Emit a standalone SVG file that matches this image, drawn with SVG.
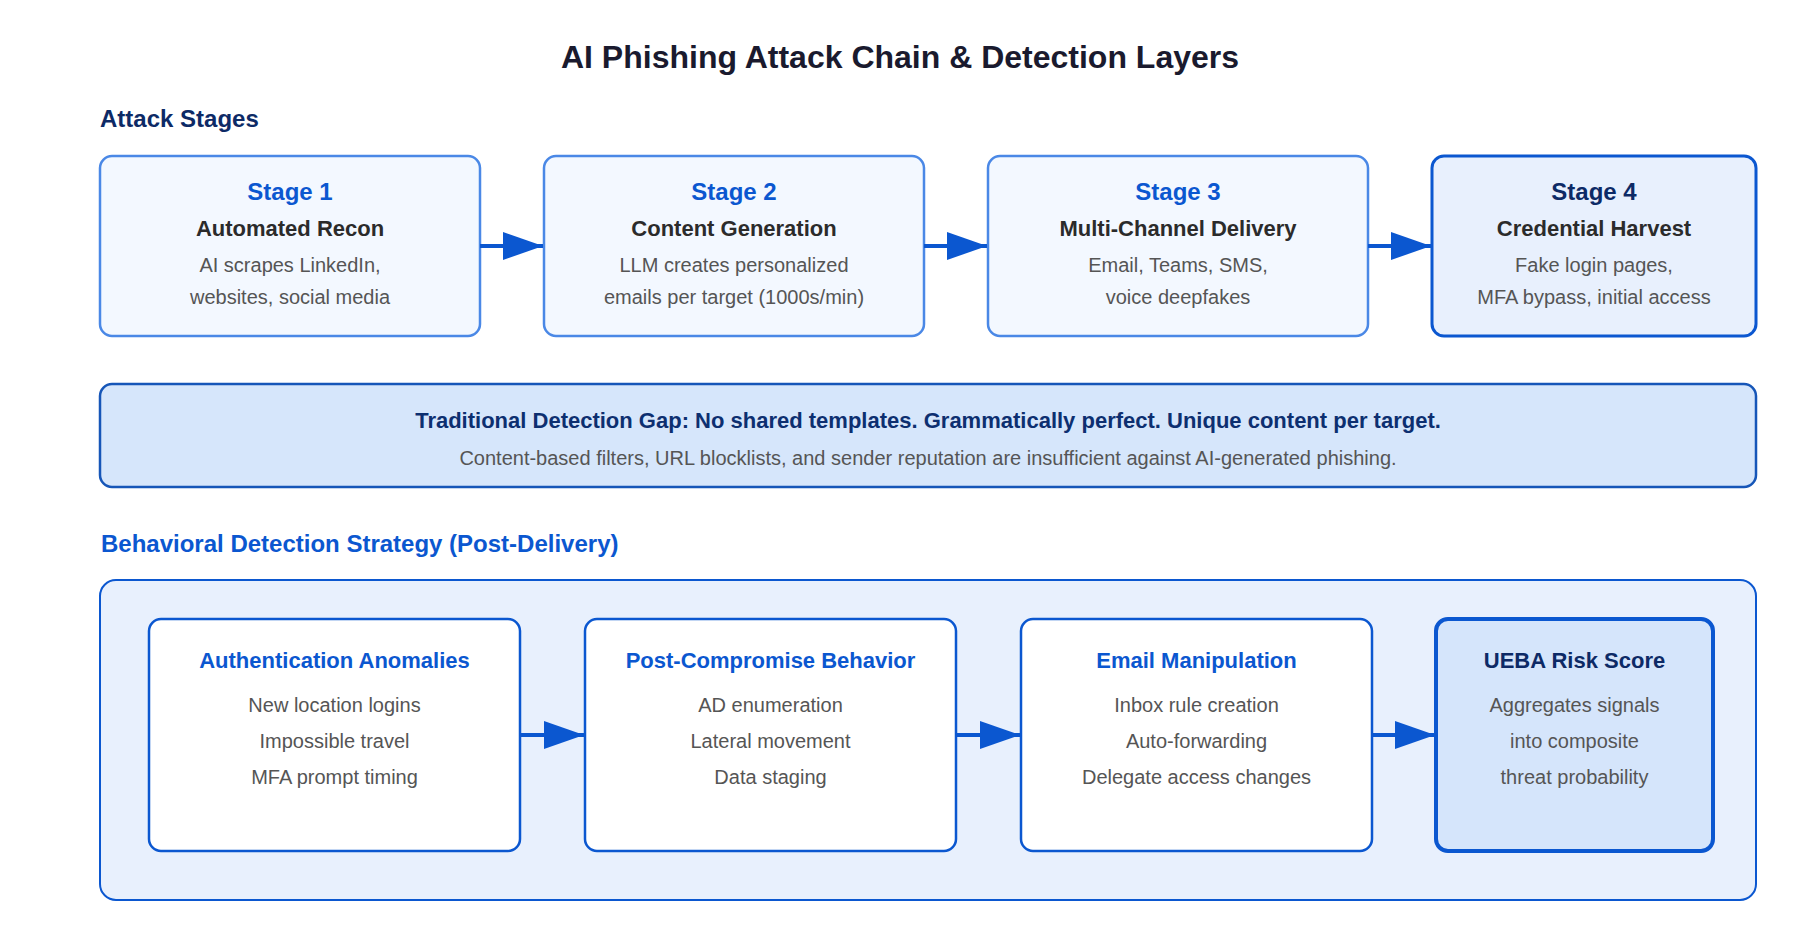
<svg xmlns="http://www.w3.org/2000/svg" width="1800" height="940" viewBox="0 0 1800 940">
<defs>
<marker id="ah" markerUnits="userSpaceOnUse" markerWidth="40" markerHeight="28" refX="40" refY="14" orient="auto">
<path d="M0,0 L40,14 L0,28 Z" fill="#0b57d0"/>
</marker>
<style>
text{font-family:"Liberation Sans",Arial,Helvetica,sans-serif;text-anchor:middle}
.title{font-size:32px;font-weight:bold;fill:#1a1a2e}
.sec{font-size:24px;font-weight:bold;text-anchor:start}
.stage{fill:#f3f8ff;stroke:#4a88e6;stroke-width:2.5}
.stage4{fill:#e8f0fd;stroke:#0b57d0;stroke-width:3}
.lbl{font-size:24px;font-weight:bold;fill:#0b57d0}
.lbln{font-size:24px;font-weight:bold;fill:#0d2a66}
.sub{font-size:22px;font-weight:bold;fill:#2b2b2b}
.desc{font-size:20px;fill:#555}
.gap{fill:#d6e6fb;stroke:#1656b8;stroke-width:2.5}
.gapt{font-size:22px;font-weight:bold;fill:#0d2f70}
.gapd{font-size:20px;fill:#555}
.cont{fill:#e8f0fd;stroke:#0b57d0;stroke-width:2}
.det{fill:#fff;stroke:#0b57d0;stroke-width:2.5}
.ueba{fill:#d5e5fb;stroke:#0b57d0;stroke-width:4}
.dt{font-size:22px;font-weight:bold;fill:#0b57d0}
.dtn{font-size:22px;font-weight:bold;fill:#0d2a66}
.conn{stroke:#0b57d0;stroke-width:4;fill:none;marker-end:url(#ah)}
</style>
</defs>
<rect width="1800" height="940" fill="#fff"/>
<text class="title" x="900" y="68">AI Phishing Attack Chain &amp; Detection Layers</text>
<text class="sec" x="100" y="127" fill="#0d2a66">Attack Stages</text>

<g id="stage1">
<rect class="stage" x="100" y="156" width="380" height="180" rx="12"/>
<text class="lbl" x="290" y="200">Stage 1</text>
<text class="sub" x="290" y="236">Automated Recon</text>
<text class="desc" x="290" y="272">AI scrapes LinkedIn,</text>
<text class="desc" x="290" y="304">websites, social media</text>
</g>
<g id="stage2">
<rect class="stage" x="544" y="156" width="380" height="180" rx="12"/>
<text class="lbl" x="734" y="200">Stage 2</text>
<text class="sub" x="734" y="236">Content Generation</text>
<text class="desc" x="734" y="272">LLM creates personalized</text>
<text class="desc" x="734" y="304">emails per target (1000s/min)</text>
</g>
<g id="stage3">
<rect class="stage" x="988" y="156" width="380" height="180" rx="12"/>
<text class="lbl" x="1178" y="200">Stage 3</text>
<text class="sub" x="1178" y="236">Multi-Channel Delivery</text>
<text class="desc" x="1178" y="272">Email, Teams, SMS,</text>
<text class="desc" x="1178" y="304">voice deepfakes</text>
</g>
<g id="stage4">
<rect class="stage4" x="1432" y="156" width="324" height="180" rx="12"/>
<text class="lbln" x="1594" y="200">Stage 4</text>
<text class="sub" x="1594" y="236">Credential Harvest</text>
<text class="desc" x="1594" y="272">Fake login pages,</text>
<text class="desc" x="1594" y="304">MFA bypass, initial access</text>
</g>

<g id="gap">
<rect class="gap" x="100" y="384" width="1656" height="103" rx="12"/>
<text class="gapt" x="928" y="428">Traditional Detection Gap: No shared templates. Grammatically perfect. Unique content per target.</text>
<text class="gapd" x="928" y="465">Content-based filters, URL blocklists, and sender reputation are insufficient against AI-generated phishing.</text>
</g>

<text class="sec" x="101" y="552" fill="#0b57d0">Behavioral Detection Strategy (Post-Delivery)</text>

<g id="behavioral">
<rect class="cont" x="100" y="580" width="1656" height="320" rx="16"/>
</g>
<g id="auth">
<rect class="det" x="149" y="619" width="371" height="232" rx="12"/>
<text class="dt" x="334.5" y="668">Authentication Anomalies</text>
<text class="desc" x="334.5" y="712">New location logins</text>
<text class="desc" x="334.5" y="748">Impossible travel</text>
<text class="desc" x="334.5" y="784">MFA prompt timing</text>
</g>
<g id="postcomp">
<rect class="det" x="585" y="619" width="371" height="232" rx="12"/>
<text class="dt" x="770.5" y="668">Post-Compromise Behavior</text>
<text class="desc" x="770.5" y="712">AD enumeration</text>
<text class="desc" x="770.5" y="748">Lateral movement</text>
<text class="desc" x="770.5" y="784">Data staging</text>
</g>
<g id="email">
<rect class="det" x="1021" y="619" width="351" height="232" rx="12"/>
<text class="dt" x="1196.5" y="668">Email Manipulation</text>
<text class="desc" x="1196.5" y="712">Inbox rule creation</text>
<text class="desc" x="1196.5" y="748">Auto-forwarding</text>
<text class="desc" x="1196.5" y="784">Delegate access changes</text>
</g>
<g id="ueba">
<rect class="ueba" x="1436" y="619" width="277" height="232" rx="12"/>
<text class="dtn" x="1574.5" y="668">UEBA Risk Score</text>
<text class="desc" x="1574.5" y="712">Aggregates signals</text>
<text class="desc" x="1574.5" y="748">into composite</text>
<text class="desc" x="1574.5" y="784">threat probability</text>
</g>

<g id="connectors">
<path class="conn" d="M480,246 H543"/>
<path class="conn" d="M924,246 H987"/>
<path class="conn" d="M1368,246 H1431"/>
<path class="conn" d="M520,735 H584"/>
<path class="conn" d="M956,735 H1020"/>
<path class="conn" d="M1372,735 H1435"/>
</g>
</svg>
